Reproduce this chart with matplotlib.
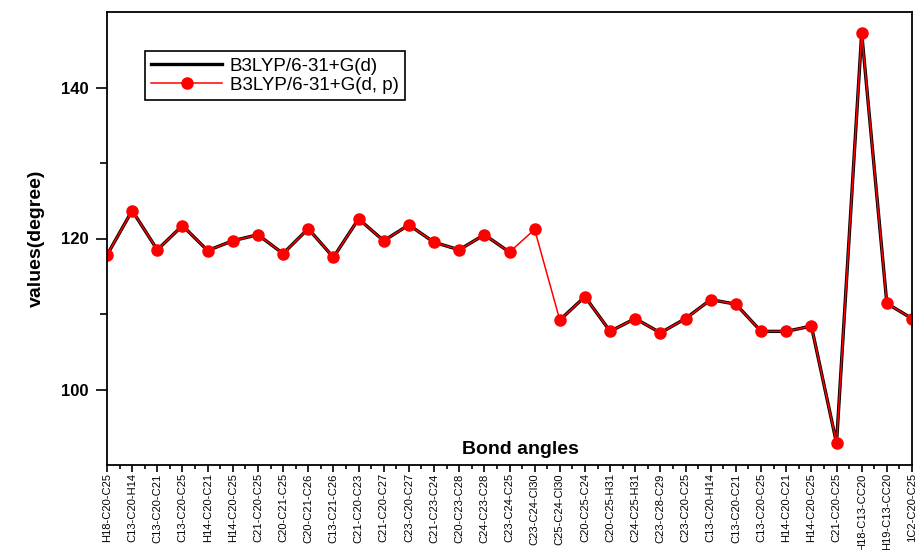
import numpy as np
import matplotlib.pyplot as plt

plt.rcParams['font.family'] = ['Liberation Sans', 'DejaVu Sans']

# Bond angle labels and computed values (degrees)
angles = ["H18-C20-C25", "C13-C20-H14", "C13-C20-C21", "C13-C20-C25", "H14-C20-C21",
          "H14-C20-C25", "C21-C20-C25", "C20-C21-C25", "C20-C21-C26", "C13-C21-C26",
          "C21-C20-C23", "C21-C20-C27", "C23-C20-C27", "C21-C23-C24", "C20-C23-C28",
          "C24-C23-C28", "C23-C24-C25", "C23-C24-Cl30", "C25-C24-Cl30", "C20-C25-C24",
          "C20-C25-H31", "C24-C25-H31", "C23-C28-C29", "C23-C20-C25", "C13-C20-H14",
          "C13-C20-C21", "C13-C20-C25", "H14-C20-C21", "H14-C20-C25", "C21-C20-C25",
          "H18-C13-CC20", "H19-C13-CC20", "1C2-C20-C25"]

b3lyp_dp = [117.8, 123.7, 118.5, 121.7, 118.4, 119.7, 120.5, 118.0, 121.3, 117.5,
            122.6, 119.7, 121.8, 119.5, 118.5, 120.5, 118.2, 121.2, 109.2, 112.3,
            107.7, 109.4, 107.5, 109.4, 111.9, 111.3, 107.7, 107.7, 108.4, 92.9,
            147.2, 111.4, 109.4]

b3lyp_d = [117.8, 123.7, 118.5, 121.7, 118.4, 119.7, 120.5, 118.0, 121.3, 117.5,
           122.6, 119.7, 121.8, 119.5, 118.5, 120.5, 118.2, np.nan, 109.2, 112.3,
           107.7, 109.4, 107.5, 109.4, 111.9, 111.3, 107.7, 107.7, 108.4, 92.9,
           147.2, 111.4, 109.4]

x = np.arange(len(angles))

fig = plt.figure(figsize=(9.21, 5.5), dpi=100)
ax = fig.add_axes([107 / 921, 85 / 550, 805 / 921, 453 / 550])

ax.plot(x, b3lyp_d, color='black', lw=2.4, label='B3LYP/6-31+G(d)')
ax.plot(x, b3lyp_dp, color='red', lw=1.1, marker='o', ms=8,
        label='B3LYP/6-31+G(d, p)')

ax.set_xlim(0, len(angles) - 1)
ax.set_ylim(90, 150)
ax.set_yticks([100, 120, 140])
ax.set_yticks([110, 130], minor=True)
ax.set_xticks(x)
ax.set_xticks(x[:-1] + 0.5, minor=True)
ax.set_xticklabels(angles, rotation=90, fontsize=8.0)
for lbl in ax.get_yticklabels():
    lbl.set_fontweight('bold')
    lbl.set_fontsize(12)

ax.tick_params(axis='y', which='major', direction='out', length=8, width=1.2, pad=5)
ax.tick_params(axis='y', which='minor', direction='out', length=5, width=1.2)
ax.tick_params(axis='x', which='major', direction='out', length=5, width=1.2, pad=1)
ax.tick_params(axis='x', which='minor', direction='out', length=3, width=1.2)
for sp in ax.spines.values():
    sp.set_linewidth(1.3)

ax.set_ylabel('values(degree)', fontsize=14, fontweight='bold', labelpad=12)
ax.text(0.513, 0.035, 'Bond angles', transform=ax.transAxes, ha='center',
        va='center', fontsize=14, fontweight='bold')

leg = ax.legend(loc='upper left', bbox_to_anchor=(0.035, 0.935), fontsize=13.5,
                handlelength=3.8, handletextpad=0.4, fancybox=False, framealpha=1,
                edgecolor='black', borderpad=0.35, labelspacing=0.1)
leg.get_frame().set_linewidth(1.2)

fig.savefig('out.png', dpi=100)
